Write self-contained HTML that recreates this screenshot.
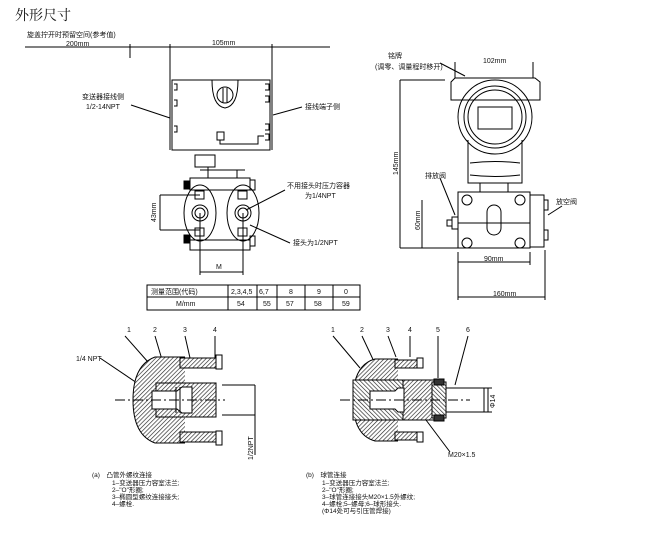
<!DOCTYPE html>
<html><head><meta charset="utf-8"><style>
html,body{margin:0;padding:0;background:#fff;}
svg{display:block;}
text{font-family:"Liberation Sans","Noto Sans CJK SC",sans-serif;fill:#111;}
</style></head><body>
<svg width="650" height="541" viewBox="0 0 650 541" xmlns="http://www.w3.org/2000/svg">
<defs>
<pattern id="h" width="3" height="3" patternUnits="userSpaceOnUse" patternTransform="rotate(45)">
<rect width="3" height="3" fill="#fff"/><line x1="0" y1="0" x2="0" y2="3" stroke="#222" stroke-width="1.3"/></pattern>
<pattern id="h2" width="3" height="3" patternUnits="userSpaceOnUse" patternTransform="rotate(-45)">
<rect width="3" height="3" fill="#fff"/><line x1="0" y1="0" x2="0" y2="3" stroke="#222" stroke-width="1.3"/></pattern>
</defs>
<text x="15" y="20" font-size="14" style="font-family:'Noto Serif CJK SC',serif">外形尺寸</text>
<g stroke="#000" fill="none" stroke-width="1">
<line x1="25" y1="47" x2="330" y2="47"/><line x1="130" y1="44" x2="130" y2="58"/>
<line x1="170" y1="44" x2="170" y2="150"/><line x1="272" y1="44" x2="272" y2="150"/>
<rect x="172" y="80" width="98" height="70"/>
<path d="M212 80 Q212 106 225 108 Q238 106 238 80"/>
<circle cx="225" cy="95" r="8"/><line x1="223" y1="88" x2="223" y2="102"/><line x1="227" y1="88" x2="227" y2="102"/>
<rect x="217" y="132" width="7" height="8"/><path d="M220 140 v4 h38 v-8 h6"/>
<path d="M174 84 h3 v6 h-3 M174 100 h3 v6 h-3 M174 126 h3 v6 h-3 M265 84 h4 v6 h-4 M265 96 h4 v6 h-4 M265 124 h4 v6 h-4 M265 134 h4 v6 h-4"/>
<line x1="131" y1="105" x2="170" y2="118"/><line x1="273" y1="115" x2="302" y2="107"/>
<path d="M195 155 h20 v12 h-20 z"/><line x1="200" y1="170" x2="245" y2="170"/><line x1="208" y1="167" x2="208" y2="178"/><line x1="237" y1="170" x2="237" y2="178"/>
<path d="M190 178 h60 v12 h-60 z M190 240 h60 v10 h-60 z"/>
<ellipse cx="200" cy="213" rx="16" ry="28"/><ellipse cx="243" cy="213" rx="16" ry="28"/>
<circle cx="200" cy="213" r="8"/><circle cx="200" cy="213" r="5"/><circle cx="243" cy="213" r="8"/><circle cx="243" cy="213" r="5"/>
<rect x="195" y="191" width="9" height="8"/><rect x="238" y="191" width="9" height="8"/><rect x="195" y="228" width="9" height="8"/><rect x="238" y="228" width="9" height="8"/>
<rect x="184" y="181" width="6" height="8" fill="#000"/><rect x="184" y="235" width="6" height="8" fill="#000"/>
<rect x="250" y="180" width="5" height="10"/><rect x="250" y="236" width="5" height="10"/>
<line x1="160" y1="195" x2="200" y2="195"/><line x1="160" y1="230" x2="200" y2="230"/><line x1="160" y1="195" x2="160" y2="230"/>
<line x1="200" y1="213" x2="200" y2="275"/><line x1="243" y1="213" x2="243" y2="275"/><line x1="200" y1="272" x2="243" y2="272"/>
<line x1="246" y1="210" x2="285" y2="190"/><line x1="250" y1="225" x2="290" y2="243"/>
<rect x="147" y="285" width="213" height="25"/><line x1="147" y1="297" x2="360" y2="297"/>
<line x1="228" y1="285" x2="228" y2="310"/><line x1="257" y1="285" x2="257" y2="310"/><line x1="277" y1="285" x2="277" y2="310"/><line x1="305" y1="285" x2="305" y2="310"/><line x1="333" y1="285" x2="333" y2="310"/>
<line x1="455" y1="62" x2="455" y2="78"/><line x1="533" y1="62" x2="533" y2="78"/>
<line x1="400" y1="80" x2="445" y2="80"/>
<path d="M451 82 l4 -4 h80 l5 4 v18 h-89 z"/>
<circle cx="495" cy="117" r="37"/><circle cx="495" cy="117" r="31"/><circle cx="495" cy="117" r="27"/>
<rect x="478" y="107" width="34" height="22"/>
<path d="M468 140 v43 h54 v-43"/><path d="M470 163 q25 -3 50 0"/><path d="M470 175 q25 3 50 0"/>
<line x1="480" y1="183" x2="480" y2="192"/><line x1="508" y1="183" x2="508" y2="192"/>
<rect x="458" y="192" width="72" height="56"/>
<rect x="487" y="205" width="14" height="30" rx="7"/>
<circle cx="467" cy="200" r="5"/><circle cx="520" cy="200" r="5"/><circle cx="467" cy="243" r="5"/><circle cx="520" cy="243" r="5"/>
<rect x="530" y="195" width="14" height="52"/><rect x="544" y="200" width="4" height="10"/><rect x="544" y="230" width="4" height="10"/>
<rect x="452" y="217" width="6" height="12"/><rect x="447" y="220" width="5" height="6"/>
<line x1="458" y1="223" x2="530" y2="223"/>
<line x1="400" y1="80" x2="400" y2="248"/><line x1="400" y1="248" x2="458" y2="248"/>
<line x1="422" y1="200" x2="422" y2="248"/>
<line x1="458" y1="252" x2="458" y2="300"/><line x1="530" y1="252" x2="530" y2="265"/><line x1="545" y1="250" x2="545" y2="300"/>
<line x1="458" y1="262" x2="530" y2="262"/><line x1="458" y1="297" x2="545" y2="297"/>
<line x1="440" y1="178" x2="455" y2="215"/><line x1="548" y1="215" x2="562" y2="206"/>
<line x1="440" y1="63" x2="465" y2="76"/>
<line x1="125" y1="336" x2="148" y2="362"/><line x1="155" y1="336" x2="168" y2="380"/><line x1="185" y1="336" x2="190" y2="358"/><line x1="215" y1="336" x2="215" y2="360"/>
<line x1="100" y1="358" x2="140" y2="385"/>
<path d="M185 357 H155 Q133 365 133 400 Q133 435 155 443 H185" fill="url(#h)"/>
<rect x="180" y="358" width="36" height="10" fill="url(#h)"/><rect x="180" y="432" width="36" height="10" fill="url(#h)"/>
<rect x="156" y="383" width="60" height="34" fill="url(#h)"/>
<path d="M152 391 h25 l5 -4 h10 v26 h-10 l-5 -4 h-25 z" fill="#fff"/>
<line x1="176" y1="387" x2="176" y2="413"/><line x1="180" y1="387" x2="180" y2="413"/>
<rect x="216" y="355" width="6" height="14"/><rect x="216" y="431" width="6" height="14"/>
<line x1="222" y1="385" x2="255" y2="385"/><line x1="222" y1="415" x2="255" y2="415"/>
<line x1="115" y1="400" x2="225" y2="400" stroke-dasharray="10 3 2 3"/>
<line x1="255" y1="385" x2="255" y2="455"/>
<line x1="333" y1="336" x2="360" y2="368"/><line x1="362" y1="336" x2="385" y2="385"/><line x1="388" y1="336" x2="396" y2="357"/><line x1="410" y1="336" x2="410" y2="357"/><line x1="438" y1="336" x2="438" y2="378"/><line x1="468" y1="336" x2="455" y2="385"/>
<path d="M398 359 H375 Q353 365 353 400 Q353 435 375 441 H398" fill="url(#h)"/>
<rect x="395" y="360" width="22" height="8" fill="url(#h)"/><rect x="395" y="432" width="22" height="8" fill="url(#h)"/>
<rect x="353" y="380" width="50" height="40" fill="url(#h2)"/>
<rect x="403" y="380" width="35" height="40" fill="url(#h)"/>
<path d="M370 391 h25 l3 -3 h6 v24 h-6 l-3 -3 h-25 z" fill="#fff"/>
<rect x="417" y="358" width="6" height="10"/><rect x="417" y="432" width="6" height="10"/>
<rect x="432" y="382" width="14" height="36" fill="url(#h2)"/>
<rect x="434" y="379" width="10" height="6" fill="#333"/><rect x="434" y="415" width="10" height="6" fill="#333"/>
<rect x="446" y="388" width="38" height="24"/>
<line x1="340" y1="400" x2="470" y2="400" stroke-dasharray="10 3 2 3"/>
<line x1="484" y1="388" x2="492" y2="388"/><line x1="484" y1="412" x2="492" y2="412"/><line x1="488" y1="388" x2="488" y2="412"/>
<line x1="426" y1="420" x2="450" y2="452"/>
</g>
<g font-size="7">
<text x="27" y="37">旋盖拧开时预留空间(参考值)</text>
<text x="66" y="46">200mm</text><text x="212" y="45">105mm</text>
<text x="82" y="99">变送器接线侧</text><text x="86" y="109">1/2-14NPT</text>
<text x="305" y="109">接线端子侧</text>
<text x="287" y="188">不用接头时压力容器</text><text x="305" y="198">为1/4NPT</text>
<text x="293" y="245">接头为1/2NPT</text>
<text x="216" y="269">M</text>
<text transform="translate(156 222) rotate(-90)">43mm</text>
<text x="151" y="294">测量范围(代码)</text><text x="231" y="294">2,3,4,5</text><text x="259" y="294">6,7</text><text x="289" y="294">8</text><text x="317" y="294">9</text><text x="344" y="294">0</text>
<text x="176" y="306">M/mm</text><text x="237" y="306">54</text><text x="263" y="306">55</text><text x="286" y="306">57</text><text x="314" y="306">58</text><text x="342" y="306">59</text>
<text x="388" y="58">铭牌</text><text x="375" y="69">(调零、调量程时移开)</text><text x="483" y="63">102mm</text>
<text transform="translate(398 175) rotate(-90)">145mm</text>
<text transform="translate(420 230) rotate(-90)">60mm</text>
<text x="425" y="178">排放阀</text><text x="556" y="204">放空阀</text>
<text x="484" y="261">90mm</text><text x="493" y="296">160mm</text>
<text x="127" y="332">1</text><text x="153" y="332">2</text><text x="183" y="332">3</text><text x="213" y="332">4</text>
<text x="76" y="361">1/4 NPT</text>
<text transform="translate(253 460) rotate(-90)">1/2NPT</text>
<text x="331" y="332">1</text><text x="360" y="332">2</text><text x="386" y="332">3</text><text x="408" y="332">4</text><text x="436" y="332">5</text><text x="466" y="332">6</text>
<text x="448" y="457">M20×1.5</text>
<text transform="translate(495 408) rotate(-90)">Φ14</text>
</g>
<g font-size="6.5">
<text x="92" y="477">(a)　凸管外螺纹连接</text>
<text x="112" y="485">1–变送器压力容室法兰;</text>
<text x="112" y="492">2–"O"形圈;</text>
<text x="112" y="499">3–椭圆型螺纹连接接头;</text>
<text x="112" y="506">4–螺栓.</text>
<text x="306" y="477">(b)　球管连接</text>
<text x="322" y="485">1–变送器压力容室法兰;</text>
<text x="322" y="492">2–"O"形圈;</text>
<text x="322" y="499">3–球管连接接头M20×1.5外螺纹;</text>
<text x="322" y="506">4–螺栓;5–螺母;6–球形接头.</text>
<text x="322" y="513">(Φ14处可与引压管焊接)</text>
</g>
</svg>
</body></html>
